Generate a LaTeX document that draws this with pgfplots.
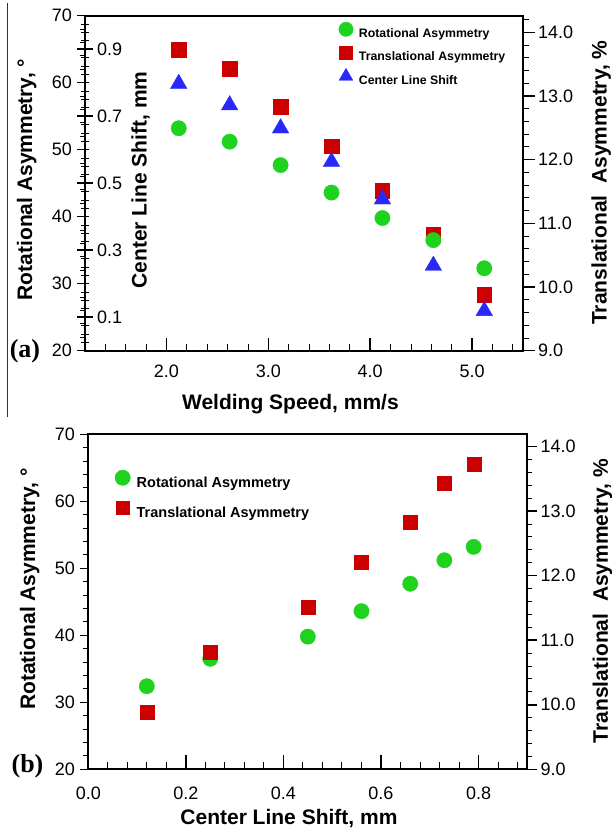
\documentclass[border=0pt]{standalone}
\usepackage{fontspec}
\setmainfont{Liberation Sans}
\newfontfamily\panelfont{Liberation Serif}
\usepackage{pgfplots}
\pgfplotsset{compat=1.18}
\definecolor{ptgreen}{RGB}{30,210,30}
\definecolor{ptred}{RGB}{204,0,0}
\definecolor{ptblue}{RGB}{40,40,250}

\tikzset{lab/.style={font=\bfseries\fontsize{21}{21}\selectfont, inner sep=0pt}}
\pgfplotsset{
  common/.style={
    scale only axis, anchor=south west, height=335pt,
    /pgf/number format/assume math mode=true,
    tick label style={font=\fontsize{18}{18}\selectfont, inner sep=0pt},
    axis line style={line width=1.8pt},
    major tick style={line width=1.5pt, black},
    minor tick style={line width=0.9pt, black},
  },
  onedec/.style={/pgf/number format/.cd, fixed, fixed zerofill, precision=1},
  rotmark/.style={mark=*, mark size=#1, mark options={fill=ptgreen, draw=ptgreen, line width=0.3pt}},
  transmark/.style={mark=square*, mark size=#1, mark options={fill=ptred, draw=ptred, line width=0.3pt}},
  clsmark/.style={mark=triangle*, mark size=#1, mark options={fill=ptblue, draw=ptblue, line width=0.3pt}},
  legimg/.style={legend image code/.code={%
      \path[draw=none, fill=none] (-8pt,#1-8pt) rectangle (8pt,#1+8pt);
      \draw[##1] plot coordinates {(0pt,#1)};}},
}

\begin{document}
\begin{tikzpicture}
\useasboundingbox (0,0) rectangle (612pt,-830pt);

% ---------------- panel (a) ----------------
% translational asymmetry (right axis)
\begin{axis}[common, at={(85pt,-350.7pt)}, width=438pt,
  xmin=1.2, xmax=5.5, ymin=9, ymax=14.26,
  axis x line=none, axis y line*=right,
  ytick={9,10,11,12,13,14}, minor ytick={9.2,9.4,9.6,9.8,10.2,10.4,10.6,10.8,11.2,11.4,11.6,11.8,12.2,12.4,12.6,12.8,13.2,13.4,13.6,13.8,14.2},
  tick align=outside, major tick length=12pt, minor tick length=6pt,
  yticklabel style={anchor=west, xshift=3pt, onedec},
  ylabel={Translational\ \ Asymmetry, \%},
  every axis y label/.style={lab, at={(axis description cs:1.191,0.502)}, rotate=90, anchor=base},
]
\addplot[only marks, transmark=7.2pt] coordinates {
  (2.12,13.73) (2.62,13.43) (3.12,12.83) (3.62,12.21) (4.12,11.51) (4.62,10.82) (5.12,9.88)};
\end{axis}

% center line shift (inner left axis)
\begin{axis}[common, at={(85pt,-350.7pt)}, width=438pt,
  xmin=1.2, xmax=5.5, ymin=0, ymax=1,
  axis x line=none, axis y line*=left,
  ytick={0.1,0.3,0.5,0.7,0.9}, minor ytick={0.025,0.05,...,0.975},
  tick align=center, major tick length=15pt, minor tick length=8pt,
  yticklabel style={anchor=west, xshift=19.5pt, /pgf/number format/.cd, fixed, precision=1},
  ylabel={Center Line Shift, mm},
  every axis y label/.style={lab, at={(axis description cs:0.1409,0.51)}, rotate=90, anchor=base},
]
\addplot[only marks, clsmark=9.6pt] coordinates {
  (2.12,0.797) (2.62,0.733) (3.12,0.664) (3.62,0.564) (4.12,0.452) (4.62,0.254) (5.12,0.119)};
\end{axis}

% rotational asymmetry (left axis)
\begin{axis}[common, at={(85pt,-350.7pt)}, width=438pt,
  xmin=1.2, xmax=5.5, ymin=20, ymax=70,
  axis x line=none, axis y line*=left,
  ytick={20,30,...,70}, minor ytick={22,24,...,68},
  tick align=outside, major tick length=8pt, minor tick length=5pt,
  yticklabel style={anchor=east, xshift=-5pt},
  ylabel={Rotational Asymmetry, °},
  every axis y label/.style={lab, at={(axis description cs:-0.121,0.511)}, rotate=90, anchor=base},
]
\addplot[only marks, rotmark=7.7pt] coordinates {
  (2.12,53.2) (2.62,51.2) (3.12,47.7) (3.62,43.6) (4.12,39.8) (4.62,36.5) (5.12,32.3)};
\end{axis}

% frame, welding speed axis and legend
\begin{axis}[common, at={(85pt,-350.7pt)}, width=438pt,
  xmin=1.2, xmax=5.5, ymin=20, ymax=70,
  ytick=\empty, xtick={2,3,4,5}, minor xtick={1.4,1.6,...,5.4}, xtick pos=bottom,
  tick align=inside, major tick length=13pt, minor tick length=6.5pt,
  xticklabel style={anchor=base, yshift=-26.3pt, onedec},
  xlabel={Welding Speed, mm/s},
  every axis x label/.style={lab, at={(axis description cs:0.469,-0.175)}, anchor=base},
  legimg=4.4pt, legend cell align=left,
  legend style={at={(axis description cs:0.5776,0.9833)}, anchor=north west,
    draw=none, fill=none, inner sep=0pt, outer sep=0pt,
    font=\bfseries\fontsize{12.3}{12.3}\selectfont, row sep=5.9pt,
    nodes={inner sep=0pt}, /tikz/every odd column/.append style={column sep=5pt}},
]
\addlegendimage{rotmark=7.2pt}
\addlegendimage{transmark=6.4pt}
\addlegendimage{clsmark=8pt}
\legend{Rotational Asymmetry, Translational Asymmetry, Center Line Shift}
\end{axis}

% ---------------- panel (b) ----------------
% rotational asymmetry (left axis)
\begin{axis}[common, at={(88.3pt,-769.3pt)}, width=439pt,
  xmin=0, xmax=0.9, ymin=20, ymax=70,
  axis x line=none, axis y line*=left,
  ytick={20,30,...,70}, minor ytick={22,24,...,68},
  tick align=outside, major tick length=8pt, minor tick length=5pt,
  yticklabel style={anchor=east, xshift=-5.3pt},
  ylabel={Rotational Asymmetry, °},
  every axis y label/.style={lab, at={(axis description cs:-0.1214,0.538)}, rotate=90, anchor=base},
]
\addplot[only marks, rotmark=7.7pt] coordinates {
  (0.12,32.4) (0.25,36.5) (0.45,39.8) (0.56,43.6) (0.66,47.7) (0.73,51.2) (0.79,53.2)};
\end{axis}

% translational asymmetry (right axis)
\begin{axis}[common, at={(88.3pt,-769.3pt)}, width=439pt,
  xmin=0, xmax=0.9, ymin=9, ymax=14.19,
  axis x line=none, axis y line*=right,
  ytick={9,10,11,12,13,14}, minor ytick={9.2,9.4,9.6,9.8,10.2,10.4,10.6,10.8,11.2,11.4,11.6,11.8,12.2,12.4,12.6,12.8,13.2,13.4,13.6,13.8},
  tick align=outside, major tick length=10pt, minor tick length=5pt,
  yticklabel style={anchor=west, xshift=3pt, onedec},
  ylabel={Translational\ \ Asymmetry, \%},
  every axis y label/.style={lab, at={(axis description cs:1.1838,0.5024)}, rotate=90, anchor=base},
]
\addplot[only marks, transmark=7pt] coordinates {
  (0.12,9.88) (0.25,10.82) (0.45,11.51) (0.56,12.21) (0.66,12.83) (0.73,13.43) (0.79,13.73)};
\end{axis}

% frame, center line shift axis and legend
\begin{axis}[common, at={(88.3pt,-769.3pt)}, width=439pt,
  xmin=0, xmax=0.9, ymin=20, ymax=70,
  ytick=\empty, xtick={0,0.2,0.4,0.6,0.8}, minor xtick={0.04,0.08,...,0.88}, xtick pos=bottom,
  tick align=inside, major tick length=14pt, minor tick length=7.5pt,
  xticklabel style={anchor=base, yshift=-30pt, onedec},
  xlabel={Center Line Shift, mm},
  every axis x label/.style={lab, at={(axis description cs:0.457,-0.166)}, anchor=base},
  legimg=5.2pt, legend cell align=left,
  legend style={at={(axis description cs:0.0601,0.8943)}, anchor=north west,
    draw=none, fill=none, inner sep=0pt, outer sep=0pt,
    font=\bfseries\fontsize{14.5}{14.5}\selectfont, row sep=11pt,
    nodes={inner sep=0pt}, /tikz/every odd column/.append style={column sep=6pt}},
]
\addlegendimage{rotmark=7.7pt}
\addlegendimage{transmark=6.6pt}
\legend{Rotational Asymmetry, Translational Asymmetry}
\end{axis}

% panel letters and the page edge line
\draw[line width=0.8pt, black!80] (7pt,-3pt) -- (7pt,-417pt);
\node[font=\panelfont\bfseries\fontsize{26}{26}\selectfont, inner sep=0pt] at (25pt,-351.5pt) {(a)};
\node[font=\panelfont\bfseries\fontsize{26}{26}\selectfont, inner sep=0pt] at (27.5pt,-766.7pt) {(b)};
\end{tikzpicture}
\end{document}
